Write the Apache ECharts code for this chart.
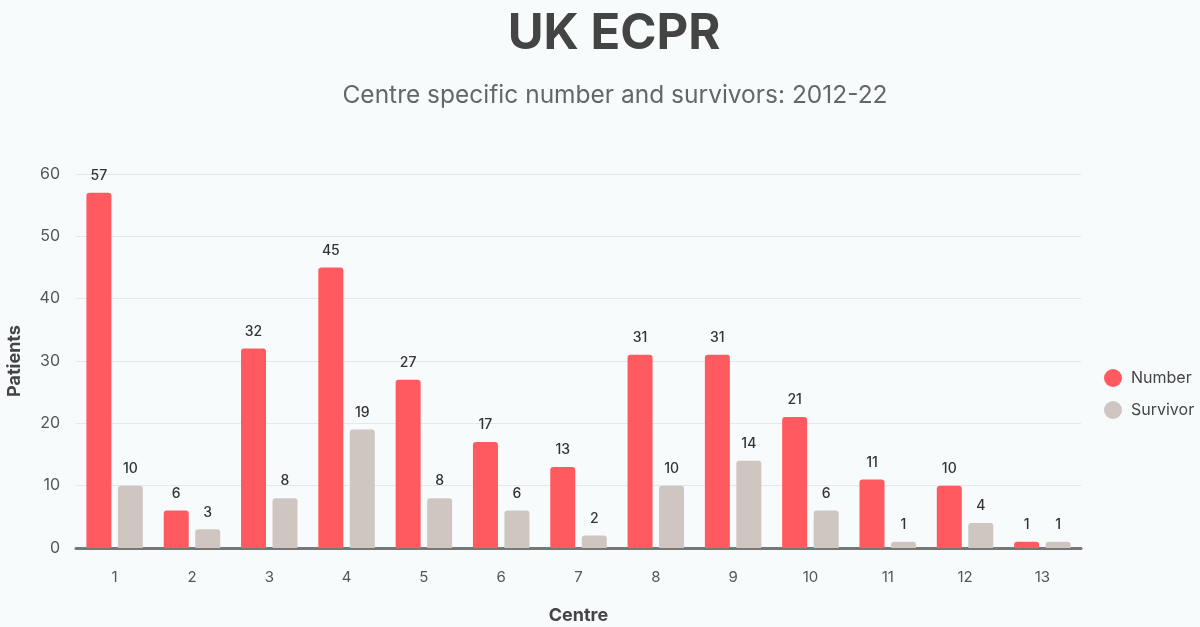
<!DOCTYPE html>
<html><head><meta charset="utf-8">
<script src="https://cdn.jsdelivr.net/npm/echarts@6/dist/echarts.min.js"></script>
<style>html,body{margin:0;padding:0;background:#f8fbfc}#c{width:1200px;height:627px}</style>
</head><body><div id="c"></div>
<script>
const categories = ['1','2','3','4','5','6','7','8','9','10','11','12','13'];
const numberValues = [57,6,32,45,27,17,13,31,31,21,11,10,1];
const survivorValues = [10,3,8,19,8,6,2,10,14,6,1,4,1];
const yTicks = [0,10,20,30,40,50,60];

const chart = echarts.init(document.getElementById('c'));
const labelStyle = {show:true, position:'top', distance:10, color:'#333', fontSize:14, fontWeight:500, fontFamily:'Inter'};
chart.setOption({
  backgroundColor:'#f8fbfc',
  animation:false,
  title:[
    {text:'UK ECPR', left:609, textAlign:'center', top:5, textStyle:{fontFamily:'Inter', fontWeight:'bold', fontSize:49, color:'#444'}},
    {text:'Centre specific number and survivors: 2012-22', left:610, textAlign:'center', top:78, textStyle:{fontFamily:'Inter', fontWeight:'normal', fontSize:24.5, color:'#666'}}
  ],
  legend:{
    orient:'vertical', left:1099, top:364, itemGap:14, icon:'circle', itemWidth:18, itemHeight:18,
    textStyle:{fontFamily:'Inter', fontSize:16, color:'#444', padding:[0,0,0,4]},
    data:['Number','Survivor']
  },
  grid:{left:76, right:119, top:174, bottom:79, outerBoundsMode:'none', containLabel:false},
  xAxis:{
    type:'category', data:categories,
    name:'Centre', nameLocation:'middle', nameGap:59,
    nameTextStyle:{fontFamily:'Inter', fontWeight:'bold', fontSize:18, color:'#444'},
    axisLine:{lineStyle:{color:'#777', width:3}},
    axisTick:{show:false},
    axisLabel:{fontFamily:'Inter', fontSize:15, color:'#555', margin:22}
  },
  yAxis:{
    type:'value', min:yTicks[0], max:yTicks[yTicks.length-1], interval:10,
    name:'Patients', nameLocation:'middle', nameGap:52,
    nameTextStyle:{fontFamily:'Inter', fontWeight:'bold', fontSize:18, color:'#444'},
    axisLine:{show:false}, axisTick:{show:false},
    axisLabel:{fontFamily:'Inter', fontSize:16, color:'#555', margin:16},
    splitLine:{lineStyle:{color:'#e4e8ea', width:1}}
  },
  series:[
    {name:'Number', type:'bar', data:numberValues, barWidth:25, barGap:'26%',
     itemStyle:{color:'#ff5a5f', borderRadius:[3,3,0,0]}, label:labelStyle},
    {name:'Survivor', type:'bar', data:survivorValues, barWidth:25,
     itemStyle:{color:'#cfc6c1', borderRadius:[3,3,0,0]}, label:labelStyle}
  ]
});
</script></body></html>
